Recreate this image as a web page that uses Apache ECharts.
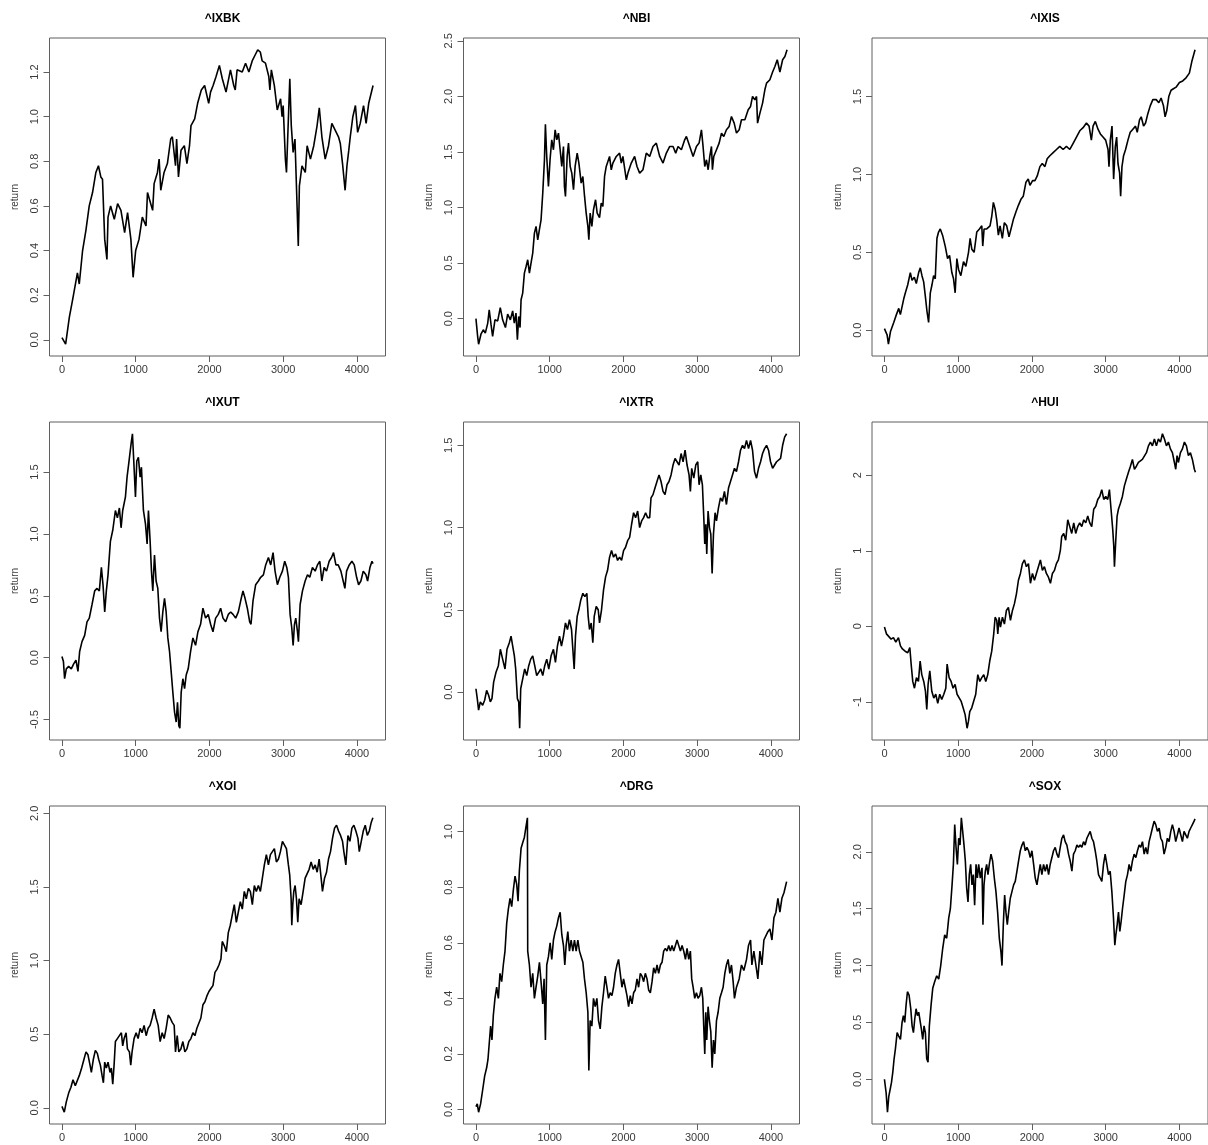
<!DOCTYPE html>
<html>
<head>
<meta charset="utf-8">
<script src="https://cdn.jsdelivr.net/npm/echarts@6/dist/echarts.min.js"></script>
<style>
  html, body { margin: 0; padding: 0; background: #fff; }
  #main { width: 1208px; height: 1145px; }
</style>
</head>
<body>
<div id="main"></div>
<script>
// Cumulative log-return paths of nine NASDAQ / AMEX sector indices, [day, return]
const ixbk = [[0,0.01],[50,-0.02],[100,0.10],[145,0.18],[210,0.30],[235,0.25],[280,0.40],[325,0.49],[370,0.60],[415,0.66],[460,0.75],[495,0.78],[527,0.73],[550,0.72],[580,0.45],[610,0.36],[625,0.55],[660,0.60],[710,0.54],[755,0.61],[800,0.58],[850,0.48],[890,0.57],[935,0.45],[965,0.28],[1000,0.40],[1045,0.45],[1090,0.55],[1140,0.51],[1160,0.66],[1230,0.58],[1250,0.70],[1295,0.75],[1318,0.81],[1340,0.67],[1385,0.75],[1430,0.79],[1475,0.90],[1497,0.91],[1540,0.78],[1555,0.90],[1580,0.73],[1615,0.85],[1660,0.87],[1695,0.79],[1730,0.87],[1750,0.96],[1800,0.99],[1840,1.06],[1890,1.12],[1935,1.14],[1990,1.06],[2015,1.11],[2050,1.14],[2090,1.18],[2135,1.23],[2175,1.17],[2225,1.11],[2285,1.21],[2330,1.14],[2350,1.12],[2375,1.21],[2445,1.20],[2490,1.24],[2535,1.20],[2580,1.25],[2625,1.28],[2655,1.30],[2690,1.29],[2715,1.25],[2760,1.24],[2805,1.18],[2820,1.12],[2840,1.21],[2880,1.14],[2920,1.03],[2965,1.08],[2985,1.00],[3000,1.05],[3030,0.81],[3045,0.75],[3075,1.03],[3090,1.17],[3110,0.96],[3135,0.84],[3160,0.90],[3180,0.69],[3205,0.42],[3220,0.69],[3255,0.78],[3300,0.75],[3325,0.87],[3370,0.81],[3415,0.87],[3460,0.96],[3490,1.04],[3525,0.91],[3570,0.81],[3615,0.87],[3660,0.97],[3705,0.94],[3750,0.91],[3775,0.88],[3805,0.79],[3840,0.67],[3865,0.78],[3890,0.85],[3910,0.91],[3945,1.00],[3980,1.05],[4010,0.93],[4045,0.97],[4090,1.05],[4125,0.97],[4160,1.06],[4219,1.14]];

const nbi = [[0,0.00],[23,-0.16],[36,-0.23],[68,-0.14],[100,-0.10],[127,-0.13],[160,-0.04],[180,0.08],[204,-0.05],[226,-0.16],[258,-0.01],[295,-0.02],[330,0.10],[362,-0.01],[400,-0.08],[430,0.04],[467,-0.01],[498,0.07],[520,-0.04],[543,0.05],[562,-0.19],[580,0.02],[598,-0.08],[612,0.17],[634,0.23],[657,0.41],[680,0.47],[702,0.53],[725,0.41],[747,0.50],[770,0.59],[793,0.77],[815,0.83],[838,0.71],[860,0.80],[883,0.89],[906,1.13],[929,1.43],[942,1.75],[960,1.46],[983,1.19],[1005,1.43],[1028,1.61],[1051,1.52],[1074,1.70],[1096,1.61],[1119,1.67],[1142,1.52],[1164,1.37],[1187,1.55],[1200,1.19],[1214,1.10],[1237,1.46],[1255,1.58],[1278,1.37],[1300,1.31],[1323,1.16],[1345,1.37],[1373,1.49],[1396,1.40],[1427,1.22],[1450,1.28],[1473,1.10],[1495,0.95],[1518,0.83],[1531,0.71],[1549,0.95],[1572,0.83],[1594,0.98],[1622,1.07],[1644,0.95],[1676,0.91],[1699,1.04],[1721,1.01],[1744,1.28],[1767,1.37],[1789,1.37],[1812,1.46],[1835,1.34],[1857,1.40],[1903,1.46],[1948,1.49],[1971,1.40],[1993,1.46],[2039,1.25],[2061,1.31],[2106,1.40],[2152,1.46],[2184,1.37],[2220,1.31],[2265,1.34],[2310,1.49],[2356,1.46],[2401,1.55],[2446,1.58],[2492,1.46],[2537,1.40],[2582,1.49],[2628,1.55],[2673,1.55],[2709,1.49],[2741,1.55],[2786,1.52],[2831,1.61],[2854,1.64],[2900,1.55],[2945,1.46],[2990,1.55],[3026,1.58],[3058,1.70],[3080,1.55],[3103,1.37],[3126,1.43],[3149,1.34],[3171,1.46],[3194,1.55],[3207,1.34],[3225,1.46],[3262,1.52],[3298,1.58],[3330,1.67],[3361,1.64],[3397,1.70],[3434,1.73],[3465,1.82],[3502,1.76],[3533,1.67],[3570,1.70],[3601,1.79],[3647,1.79],[3692,1.88],[3724,1.91],[3751,2.00],[3783,1.97],[3805,2.00],[3819,1.76],[3851,1.85],[3887,1.94],[3918,2.06],[3941,2.12],[3986,2.15],[4023,2.22],[4054,2.27],[4086,2.33],[4122,2.22],[4159,2.33],[4190,2.36],[4219,2.42]];

const ixis = [[0,0.01],[36,-0.03],[54,-0.09],[81,-0.01],[126,0.05],[162,0.10],[194,0.14],[216,0.10],[239,0.09],[261,0.20],[284,0.24],[315,0.29],[351,0.37],[374,0.32],[405,0.34],[432,0.30],[464,0.37],[486,0.40],[509,0.35],[532,0.31],[554,0.22],[577,0.12],[599,0.05],[622,0.24],[644,0.29],[667,0.35],[689,0.33],[712,0.59],[734,0.63],[757,0.65],[788,0.61],[824,0.54],[856,0.46],[883,0.48],[914,0.37],[937,0.33],[959,0.24],[982,0.46],[1005,0.39],[1036,0.35],[1072,0.44],[1104,0.41],[1140,0.50],[1162,0.59],[1185,0.52],[1216,0.50],[1252,0.63],[1288,0.65],[1320,0.67],[1333,0.54],[1351,0.65],[1387,0.65],[1432,0.67],[1455,0.73],[1477,0.82],[1500,0.78],[1522,0.71],[1545,0.61],[1568,0.67],[1599,0.59],[1626,0.69],[1658,0.67],[1689,0.60],[1716,0.65],[1748,0.71],[1784,0.76],[1815,0.80],[1851,0.84],[1883,0.86],[1919,0.95],[1950,0.97],[1973,0.93],[2009,0.96],[2041,0.96],[2072,0.99],[2108,1.05],[2140,1.07],[2176,1.05],[2207,1.10],[2243,1.12],[2288,1.14],[2333,1.16],[2378,1.18],[2423,1.16],[2468,1.18],[2514,1.16],[2559,1.20],[2604,1.24],[2649,1.28],[2694,1.30],[2739,1.33],[2775,1.31],[2806,1.22],[2829,1.31],[2860,1.34],[2896,1.29],[2928,1.26],[2964,1.24],[3000,1.22],[3032,1.16],[3045,1.05],[3063,1.22],[3086,1.31],[3108,0.97],[3131,1.18],[3149,1.24],[3167,1.07],[3189,1.01],[3203,0.86],[3221,1.05],[3243,1.12],[3270,1.16],[3302,1.22],[3333,1.27],[3369,1.29],[3405,1.31],[3428,1.27],[3459,1.35],[3482,1.37],[3514,1.31],[3541,1.33],[3572,1.39],[3604,1.44],[3640,1.48],[3685,1.48],[3721,1.46],[3752,1.49],[3784,1.44],[3806,1.37],[3829,1.41],[3856,1.50],[3887,1.54],[3919,1.55],[3955,1.56],[4000,1.59],[4045,1.60],[4090,1.62],[4135,1.65],[4171,1.73],[4212,1.80]];

const ixut = [[0,0.01],[20,-0.03],[36,-0.17],[59,-0.09],[91,-0.07],[127,-0.09],[159,-0.05],[190,-0.02],[217,-0.11],[240,0.05],[272,0.13],[308,0.18],[340,0.29],[371,0.32],[408,0.43],[444,0.54],[476,0.56],[507,0.54],[535,0.73],[557,0.59],[580,0.37],[602,0.54],[625,0.67],[657,0.94],[689,1.03],[725,1.19],[752,1.13],[779,1.21],[802,1.05],[824,1.19],[861,1.30],[883,1.46],[906,1.57],[938,1.73],[956,1.81],[974,1.59],[997,1.30],[1015,1.59],[1037,1.62],[1060,1.46],[1078,1.54],[1105,1.19],[1133,1.08],[1155,0.92],[1173,1.19],[1196,0.94],[1214,0.70],[1232,0.54],[1255,0.83],[1277,0.62],[1300,0.56],[1323,0.32],[1345,0.21],[1368,0.37],[1391,0.48],[1413,0.37],[1436,0.16],[1459,0.05],[1481,-0.11],[1504,-0.28],[1527,-0.44],[1549,-0.52],[1567,-0.36],[1585,-0.55],[1599,-0.57],[1617,-0.28],[1640,-0.17],[1663,-0.25],[1685,-0.14],[1712,-0.09],[1744,0.05],[1776,0.16],[1812,0.10],[1844,0.21],[1880,0.27],[1912,0.40],[1948,0.32],[1984,0.35],[2016,0.27],[2048,0.21],[2084,0.32],[2120,0.35],[2152,0.40],[2184,0.32],[2220,0.29],[2256,0.35],[2288,0.37],[2320,0.35],[2356,0.32],[2392,0.37],[2424,0.46],[2455,0.54],[2483,0.48],[2514,0.40],[2546,0.29],[2564,0.27],[2591,0.46],[2627,0.59],[2664,0.62],[2695,0.65],[2732,0.67],[2763,0.75],[2800,0.81],[2831,0.75],[2863,0.85],[2890,0.70],[2922,0.59],[2954,0.65],[2990,0.70],[3021,0.78],[3049,0.73],[3071,0.65],[3094,0.35],[3117,0.24],[3135,0.10],[3153,0.27],[3171,0.32],[3194,0.21],[3207,0.13],[3230,0.43],[3262,0.54],[3298,0.62],[3330,0.67],[3361,0.65],[3397,0.73],[3434,0.70],[3465,0.75],[3497,0.78],[3524,0.62],[3556,0.73],[3588,0.70],[3624,0.78],[3656,0.81],[3683,0.85],[3715,0.75],[3746,0.75],[3783,0.70],[3814,0.62],[3837,0.56],[3860,0.70],[3896,0.75],[3932,0.78],[3964,0.75],[3996,0.65],[4023,0.59],[4054,0.62],[4086,0.70],[4122,0.67],[4145,0.62],[4177,0.73],[4204,0.78],[4219,0.76]];

const ixtr = [[0,0.02],[18,-0.04],[36,-0.11],[59,-0.06],[91,-0.08],[118,-0.05],[145,0.01],[172,-0.02],[195,-0.06],[217,-0.04],[240,0.06],[272,0.12],[304,0.16],[331,0.26],[362,0.20],[394,0.14],[421,0.26],[453,0.30],[476,0.34],[498,0.28],[521,0.22],[539,0.14],[562,-0.04],[580,-0.06],[593,-0.22],[607,0.02],[634,0.08],[661,0.14],[689,0.10],[716,0.16],[743,0.20],[770,0.22],[797,0.16],[824,0.10],[852,0.12],[879,0.14],[906,0.10],[933,0.16],[960,0.20],[988,0.14],[1019,0.22],[1051,0.26],[1078,0.18],[1105,0.28],[1133,0.34],[1160,0.28],[1187,0.34],[1214,0.42],[1241,0.38],[1268,0.44],[1296,0.38],[1314,0.26],[1332,0.14],[1350,0.34],[1373,0.46],[1395,0.50],[1422,0.56],[1450,0.60],[1477,0.58],[1504,0.60],[1522,0.46],[1540,0.38],[1563,0.42],[1585,0.30],[1604,0.46],[1631,0.52],[1658,0.50],[1676,0.42],[1703,0.50],[1730,0.62],[1758,0.70],[1785,0.74],[1812,0.82],[1839,0.86],[1866,0.82],[1894,0.84],[1921,0.80],[1948,0.82],[1975,0.80],[2002,0.86],[2029,0.88],[2057,0.92],[2084,0.94],[2111,1.02],[2138,1.09],[2165,1.06],[2193,1.10],[2220,1.00],[2247,1.04],[2274,1.06],[2301,1.09],[2328,1.06],[2356,1.06],[2374,1.18],[2401,1.20],[2428,1.24],[2455,1.28],[2483,1.32],[2510,1.28],[2537,1.22],[2564,1.20],[2591,1.26],[2618,1.28],[2646,1.32],[2673,1.38],[2700,1.42],[2727,1.40],[2754,1.38],[2782,1.45],[2809,1.40],[2836,1.47],[2863,1.38],[2890,1.32],[2908,1.22],[2926,1.36],[2954,1.30],[2981,1.38],[3008,1.40],[3026,1.26],[3049,1.32],[3071,1.26],[3090,1.06],[3103,0.90],[3117,1.02],[3130,0.84],[3148,1.10],[3167,1.00],[3185,0.96],[3203,0.72],[3221,0.96],[3243,1.09],[3262,1.04],[3289,1.12],[3316,1.18],[3343,1.16],[3370,1.22],[3397,1.14],[3425,1.24],[3452,1.28],[3479,1.32],[3506,1.36],[3533,1.34],[3561,1.40],[3588,1.47],[3615,1.50],[3642,1.48],[3669,1.53],[3697,1.48],[3724,1.53],[3751,1.47],[3778,1.34],[3805,1.30],[3832,1.36],[3860,1.40],[3887,1.45],[3914,1.48],[3941,1.50],[3968,1.47],[3995,1.40],[4023,1.36],[4050,1.38],[4077,1.40],[4104,1.40],[4131,1.42],[4159,1.50],[4186,1.55],[4213,1.57]];

const hui = [[0,-0.01],[27,-0.10],[54,-0.12],[90,-0.17],[122,-0.15],[154,-0.21],[190,-0.15],[217,-0.26],[244,-0.30],[280,-0.33],[316,-0.35],[344,-0.28],[362,-0.50],[384,-0.73],[407,-0.82],[434,-0.68],[461,-0.73],[484,-0.46],[506,-0.64],[533,-0.73],[556,-0.86],[574,-1.10],[592,-0.77],[615,-0.59],[642,-0.86],[669,-0.95],[696,-0.90],[723,-1.02],[750,-0.90],[777,-0.97],[805,-0.90],[832,-0.82],[850,-0.50],[877,-0.68],[904,-0.73],[931,-0.82],[958,-0.77],[985,-0.90],[1012,-0.90],[1039,-0.99],[1067,-1.08],[1094,-1.17],[1121,-1.35],[1139,-1.26],[1157,-1.13],[1184,-1.08],[1211,-0.99],[1238,-0.90],[1266,-0.64],[1293,-0.73],[1320,-0.68],[1347,-0.64],[1374,-0.73],[1401,-0.64],[1428,-0.46],[1455,-0.33],[1482,-0.10],[1501,0.12],[1523,0.08],[1537,-0.10],[1555,0.12],[1573,-0.01],[1600,0.12],[1627,0.03],[1654,0.21],[1681,0.25],[1709,0.08],[1736,0.21],[1763,0.30],[1790,0.43],[1817,0.61],[1844,0.70],[1871,0.83],[1898,0.88],[1925,0.79],[1953,0.83],[1980,0.57],[2007,0.70],[2034,0.61],[2061,0.70],[2088,0.79],[2115,0.88],[2142,0.74],[2169,0.79],[2196,0.70],[2224,0.65],[2251,0.57],[2278,0.70],[2305,0.74],[2332,0.83],[2359,0.88],[2386,1.01],[2404,1.19],[2431,1.23],[2458,1.14],[2486,1.41],[2513,1.32],[2540,1.23],[2567,1.37],[2594,1.23],[2621,1.32],[2648,1.37],[2676,1.32],[2703,1.41],[2730,1.37],[2757,1.46],[2784,1.37],[2811,1.32],[2838,1.55],[2866,1.59],[2893,1.68],[2920,1.72],[2947,1.81],[2974,1.68],[3001,1.72],[3028,1.68],[3051,1.81],[3073,1.55],[3096,1.28],[3110,1.06],[3119,0.79],[3137,1.14],[3155,1.46],[3173,1.55],[3200,1.63],[3227,1.72],[3254,1.86],[3281,1.95],[3309,2.04],[3336,2.12],[3363,2.21],[3390,2.08],[3417,2.12],[3444,2.17],[3471,2.17],[3498,2.21],[3525,2.21],[3553,2.30],[3580,2.39],[3607,2.44],[3634,2.39],[3661,2.48],[3688,2.39],[3715,2.48],[3743,2.44],[3770,2.55],[3797,2.48],[3824,2.39],[3851,2.44],[3878,2.35],[3905,2.30],[3932,2.17],[3950,2.08],[3968,2.26],[3986,2.17],[4014,2.30],[4041,2.35],[4068,2.44],[4095,2.39],[4122,2.26],[4149,2.30],[4176,2.21],[4203,2.08],[4217,2.04]];

const xoi = [[0,0.01],[9,0.02],[32,-0.03],[59,0.04],[91,0.10],[122,0.14],[150,0.19],[181,0.15],[208,0.14],[236,0.22],[267,0.27],[299,0.33],[326,0.38],[353,0.36],[381,0.29],[399,0.24],[426,0.33],[453,0.39],[480,0.37],[498,0.33],[521,0.29],[544,0.22],[562,0.17],[580,0.31],[602,0.27],[625,0.31],[652,0.24],[670,0.27],[689,0.16],[707,0.29],[725,0.45],[752,0.47],[779,0.49],[806,0.51],[824,0.42],[843,0.47],[870,0.51],[888,0.40],[915,0.38],[933,0.29],[951,0.38],[978,0.47],[1006,0.51],[1033,0.47],[1060,0.54],[1087,0.51],[1114,0.56],[1142,0.49],[1169,0.54],[1196,0.56],[1223,0.61],[1250,0.67],[1277,0.61],[1305,0.56],[1332,0.45],[1359,0.51],[1386,0.47],[1413,0.54],[1441,0.63],[1468,0.61],[1495,0.58],[1522,0.56],[1540,0.38],[1563,0.49],[1585,0.38],[1613,0.40],[1640,0.45],[1667,0.38],[1694,0.40],[1721,0.45],[1749,0.47],[1776,0.51],[1803,0.49],[1830,0.54],[1857,0.54],[1884,0.61],[1912,0.70],[1939,0.72],[1966,0.76],[1993,0.79],[2020,0.81],[2048,0.83],[2075,0.92],[2102,0.94],[2129,0.97],[2156,1.01],[2174,1.13],[2202,1.10],[2229,1.06],[2256,1.19],[2283,1.24],[2310,1.31],[2337,1.38],[2365,1.26],[2392,1.33],[2419,1.40],[2446,1.35],[2473,1.47],[2500,1.42],[2528,1.49],[2555,1.47],[2582,1.38],[2609,1.51],[2636,1.47],[2664,1.51],[2691,1.47],[2718,1.56],[2745,1.65],[2772,1.72],[2800,1.65],[2827,1.72],[2854,1.74],[2881,1.76],[2908,1.67],[2936,1.69],[2963,1.74],[2990,1.81],[3017,1.81],[3044,1.76],[3071,1.65],[3089,1.58],[3108,1.42],[3117,1.24],[3130,1.38],[3144,1.47],[3162,1.51],[3180,1.42],[3198,1.26],[3216,1.42],[3243,1.38],[3271,1.47],[3298,1.56],[3325,1.56],[3352,1.62],[3379,1.67],[3407,1.62],[3434,1.65],[3461,1.60],[3488,1.69],[3515,1.56],[3533,1.47],[3561,1.56],[3588,1.60],[3615,1.69],[3642,1.74],[3669,1.83],[3697,1.90],[3724,1.92],[3751,1.88],[3778,1.85],[3805,1.81],[3823,1.74],[3850,1.65],[3878,1.85],[3905,1.81],[3932,1.90],[3959,1.92],[3986,1.88],[4014,1.83],[4032,1.74],[4059,1.81],[4086,1.88],[4113,1.92],[4141,1.85],[4168,1.88],[4195,1.94],[4217,1.97]];

const drg = [[0,0.01],[18,0.02],[36,-0.01],[63,0.02],[91,0.07],[118,0.12],[145,0.15],[163,0.18],[181,0.24],[199,0.30],[217,0.25],[236,0.34],[258,0.40],[281,0.44],[304,0.40],[326,0.49],[349,0.46],[371,0.52],[394,0.57],[417,0.67],[439,0.72],[462,0.76],[485,0.73],[507,0.79],[530,0.84],[553,0.81],[571,0.75],[589,0.86],[612,0.94],[634,0.96],[657,0.98],[680,1.02],[698,1.05],[702,0.57],[725,0.52],[747,0.44],[770,0.49],[793,0.40],[815,0.44],[838,0.48],[861,0.53],[883,0.46],[906,0.38],[924,0.47],[942,0.25],[960,0.52],[983,0.55],[1006,0.60],[1028,0.54],[1051,0.61],[1074,0.64],[1096,0.66],[1119,0.69],[1142,0.71],[1164,0.63],[1187,0.59],[1205,0.52],[1223,0.59],[1246,0.64],[1268,0.57],[1291,0.61],[1314,0.57],[1336,0.61],[1359,0.57],[1382,0.61],[1404,0.57],[1427,0.55],[1450,0.53],[1472,0.47],[1495,0.42],[1518,0.35],[1531,0.14],[1549,0.32],[1572,0.30],[1594,0.40],[1617,0.37],[1640,0.40],[1662,0.32],[1685,0.29],[1708,0.37],[1730,0.42],[1753,0.48],[1776,0.44],[1798,0.40],[1821,0.42],[1844,0.41],[1866,0.44],[1889,0.49],[1912,0.52],[1934,0.54],[1957,0.49],[1980,0.44],[2002,0.47],[2025,0.44],[2048,0.41],[2070,0.37],[2093,0.41],[2116,0.38],[2138,0.42],[2161,0.43],[2184,0.47],[2206,0.44],[2229,0.49],[2252,0.48],[2274,0.46],[2297,0.49],[2320,0.47],[2342,0.43],[2365,0.42],[2388,0.46],[2410,0.51],[2433,0.49],[2456,0.52],[2478,0.49],[2501,0.52],[2524,0.53],[2546,0.57],[2569,0.58],[2591,0.57],[2614,0.59],[2637,0.57],[2659,0.59],[2682,0.57],[2705,0.59],[2727,0.61],[2750,0.59],[2773,0.57],[2795,0.59],[2818,0.57],[2841,0.54],[2863,0.58],[2886,0.54],[2908,0.57],[2926,0.47],[2945,0.44],[2967,0.40],[2990,0.42],[3012,0.40],[3035,0.41],[3058,0.44],[3076,0.40],[3089,0.30],[3103,0.20],[3117,0.35],[3130,0.25],[3148,0.37],[3166,0.32],[3185,0.28],[3203,0.15],[3221,0.25],[3239,0.20],[3262,0.32],[3284,0.35],[3307,0.40],[3330,0.42],[3352,0.44],[3375,0.49],[3397,0.52],[3420,0.54],[3443,0.49],[3465,0.52],[3488,0.46],[3506,0.40],[3533,0.44],[3570,0.47],[3601,0.52],[3633,0.50],[3669,0.54],[3696,0.59],[3724,0.61],[3742,0.52],[3769,0.57],[3796,0.52],[3823,0.47],[3851,0.57],[3878,0.52],[3905,0.61],[3932,0.61],[3959,0.64],[3986,0.65],[4014,0.61],[4041,0.69],[4068,0.71],[4095,0.76],[4122,0.71],[4149,0.76],[4177,0.78],[4213,0.82]];

const sox = [[0,0.00],[23,-0.12],[41,-0.29],[59,-0.15],[77,-0.09],[95,-0.03],[113,0.06],[131,0.18],[149,0.27],[172,0.41],[194,0.38],[217,0.35],[239,0.50],[257,0.56],[275,0.50],[293,0.65],[312,0.77],[334,0.74],[357,0.62],[375,0.47],[393,0.41],[411,0.53],[429,0.62],[447,0.56],[465,0.59],[483,0.59],[501,0.44],[519,0.35],[537,0.47],[555,0.41],[573,0.18],[591,0.15],[609,0.47],[632,0.65],[655,0.80],[682,0.86],[709,0.91],[736,0.88],[763,1.00],[790,1.15],[817,1.27],[844,1.24],[872,1.42],[894,1.50],[917,1.71],[935,1.89],[953,2.24],[971,2.04],[989,1.89],[1007,2.12],[1025,2.06],[1043,2.30],[1061,2.18],[1079,2.06],[1097,1.92],[1115,1.68],[1133,1.56],[1151,1.80],[1169,1.89],[1187,1.71],[1205,1.80],[1223,1.53],[1242,1.89],[1260,1.77],[1278,1.89],[1300,1.77],[1323,1.86],[1336,1.36],[1350,1.71],[1368,1.83],[1386,1.89],[1404,1.80],[1422,1.89],[1445,1.98],[1467,1.92],[1490,1.77],[1512,1.65],[1535,1.47],[1558,1.24],[1580,1.12],[1594,1.00],[1612,1.36],[1630,1.62],[1648,1.47],[1666,1.36],[1684,1.47],[1706,1.59],[1729,1.65],[1752,1.71],[1774,1.74],[1797,1.83],[1819,1.92],[1842,2.01],[1865,2.06],[1887,2.09],[1910,2.01],[1932,2.04],[1955,2.01],[1977,1.95],[2000,2.01],[2023,1.89],[2045,1.77],[2068,1.71],[2090,1.80],[2113,1.89],[2135,1.80],[2158,1.89],[2181,1.83],[2203,1.89],[2226,1.80],[2248,1.89],[2271,1.95],[2293,2.01],[2316,2.04],[2339,1.98],[2361,1.95],[2384,2.04],[2406,2.12],[2429,2.15],[2451,2.09],[2474,2.06],[2497,1.98],[2519,1.92],[2542,1.83],[2564,1.98],[2587,2.01],[2610,2.06],[2632,2.04],[2655,2.06],[2677,2.04],[2700,2.09],[2722,2.06],[2745,2.12],[2767,2.15],[2790,2.18],[2813,2.12],[2835,2.09],[2858,2.01],[2880,1.92],[2903,1.80],[2926,1.77],[2948,1.74],[2971,1.89],[2993,1.98],[3016,1.89],[3038,1.80],[3061,1.83],[3084,1.65],[3106,1.42],[3124,1.18],[3138,1.27],[3156,1.36],[3174,1.47],[3192,1.30],[3210,1.39],[3228,1.50],[3251,1.62],[3273,1.74],[3296,1.80],[3318,1.89],[3341,1.83],[3363,1.92],[3386,1.98],[3409,1.95],[3431,2.01],[3454,2.06],[3476,2.04],[3499,2.09],[3522,1.98],[3544,2.04],[3567,1.98],[3589,2.09],[3612,2.15],[3634,2.21],[3657,2.27],[3679,2.24],[3702,2.18],[3725,2.21],[3747,2.12],[3770,2.09],[3792,1.98],[3815,2.04],[3837,2.12],[3860,2.09],[3883,2.18],[3905,2.24],[3928,2.18],[3950,2.09],[3973,2.15],[3995,2.21],[4018,2.15],[4041,2.09],[4063,2.18],[4086,2.15],[4108,2.12],[4131,2.18],[4153,2.21],[4176,2.24],[4199,2.27],[4212,2.29]];

// Tick positions
const xTicks = [0, 1000, 2000, 3000, 4000];
const ixbkTicks = [0, 0.2, 0.4, 0.6, 0.8, 1.0, 1.2];
const nbiTicks = [0, 0.5, 1.0, 1.5, 2.0, 2.5];
const ixisTicks = [0, 0.5, 1.0, 1.5];
const ixutTicks = [-0.5, 0, 0.5, 1.0, 1.5];
const ixtrTicks = [0, 0.5, 1.0, 1.5];
const huiTicks = [-1, 0, 1, 2];
const xoiTicks = [0, 0.5, 1.0, 1.5, 2.0];
const drgTicks = [0, 0.2, 0.4, 0.6, 0.8, 1.0];
const soxTicks = [0, 0.5, 1.0, 1.5, 2.0];

const panels = [
  { title: '^IXBK', data: ixbk, ticks: ixbkTicks, digits: 1 },
  { title: '^NBI',  data: nbi,  ticks: nbiTicks,  digits: 1 },
  { title: '^IXIS', data: ixis, ticks: ixisTicks, digits: 1 },
  { title: '^IXUT', data: ixut, ticks: ixutTicks, digits: 1 },
  { title: '^IXTR', data: ixtr, ticks: ixtrTicks, digits: 1 },
  { title: '^HUI',  data: hui,  ticks: huiTicks,  digits: 0 },
  { title: '^XOI',  data: xoi,  ticks: xoiTicks,  digits: 1 },
  { title: '^DRG',  data: drg,  ticks: drgTicks,  digits: 1 },
  { title: '^SOX',  data: sox,  ticks: soxTicks,  digits: 1 }
];

// 3 x 3 layout of plot boxes (pixels)
const colLeft = [49.5, 463.5, 872];
const rowTop = [38, 422, 806];
const boxW = 336;
const boxH = 318;
const N_DAYS = 4219;
const pad = 0.04 * N_DAYS;          // 4% range extension on each side
const FONT = '"Liberation Sans", Arial, sans-serif';
const AXIS_GREY = '#5f5f5f';
const TEXT_GREY = '#3a3a3a';

const grid = [], xAxis = [], yAxis = [], series = [], title = [];

panels.forEach((p, i) => {
  const left = colLeft[i % 3];
  const top = rowTop[Math.floor(i / 3)];

  grid.push({
    left: left, top: top, width: boxW, height: boxH,
    show: true, borderColor: AXIS_GREY, borderWidth: 1,
    backgroundColor: 'transparent', containLabel: false
  });

  title.push({
    text: p.title,
    left: left + boxW / 2,
    top: top - 30,
    textAlign: 'center',
    textStyle: { fontFamily: FONT, fontSize: 12, fontWeight: 'bold', color: '#000' }
  });

  xAxis.push({
    type: 'value', gridIndex: i, position: 'bottom',
    min: -pad, max: N_DAYS + pad,
    axisLine: { show: false, onZero: false },
    splitLine: { show: false },
    axisTick: { show: true, inside: false, length: 6, customValues: xTicks,
                lineStyle: { color: AXIS_GREY, width: 1 } },
    axisLabel: { customValues: xTicks, margin: 8, fontFamily: FONT, fontSize: 11,
                 color: TEXT_GREY, formatter: v => String(Math.round(v)) }
  });

  yAxis.push({
    type: 'value', gridIndex: i, position: 'left',
    min: v => v.min - 0.04 * (v.max - v.min),
    max: v => v.max + 0.04 * (v.max - v.min),
    axisLine: { show: false, onZero: false },
    splitLine: { show: false },
    axisTick: { show: true, inside: false, length: 6, customValues: p.ticks,
                lineStyle: { color: AXIS_GREY, width: 1 } },
    axisLabel: { customValues: p.ticks, rotate: 90, margin: 9, fontFamily: FONT, fontSize: 11,
                 color: TEXT_GREY, formatter: v => Number(v).toFixed(p.digits) },
    name: 'return', nameLocation: 'middle', nameRotate: 90, nameGap: 29,
    nameTextStyle: { fontFamily: FONT, fontSize: 10, color: TEXT_GREY }
  });

  series.push({
    type: 'line', xAxisIndex: i, yAxisIndex: i,
    data: p.data, showSymbol: false, symbol: 'none',
    lineStyle: { color: '#000', width: 1.6 },
    silent: true
  });
});

const chart = echarts.init(document.getElementById('main'), null, { renderer: 'canvas' });
chart.setOption({
  animation: false,
  backgroundColor: '#fff',
  title, grid, xAxis, yAxis, series
});
</script>
</body>
</html>
